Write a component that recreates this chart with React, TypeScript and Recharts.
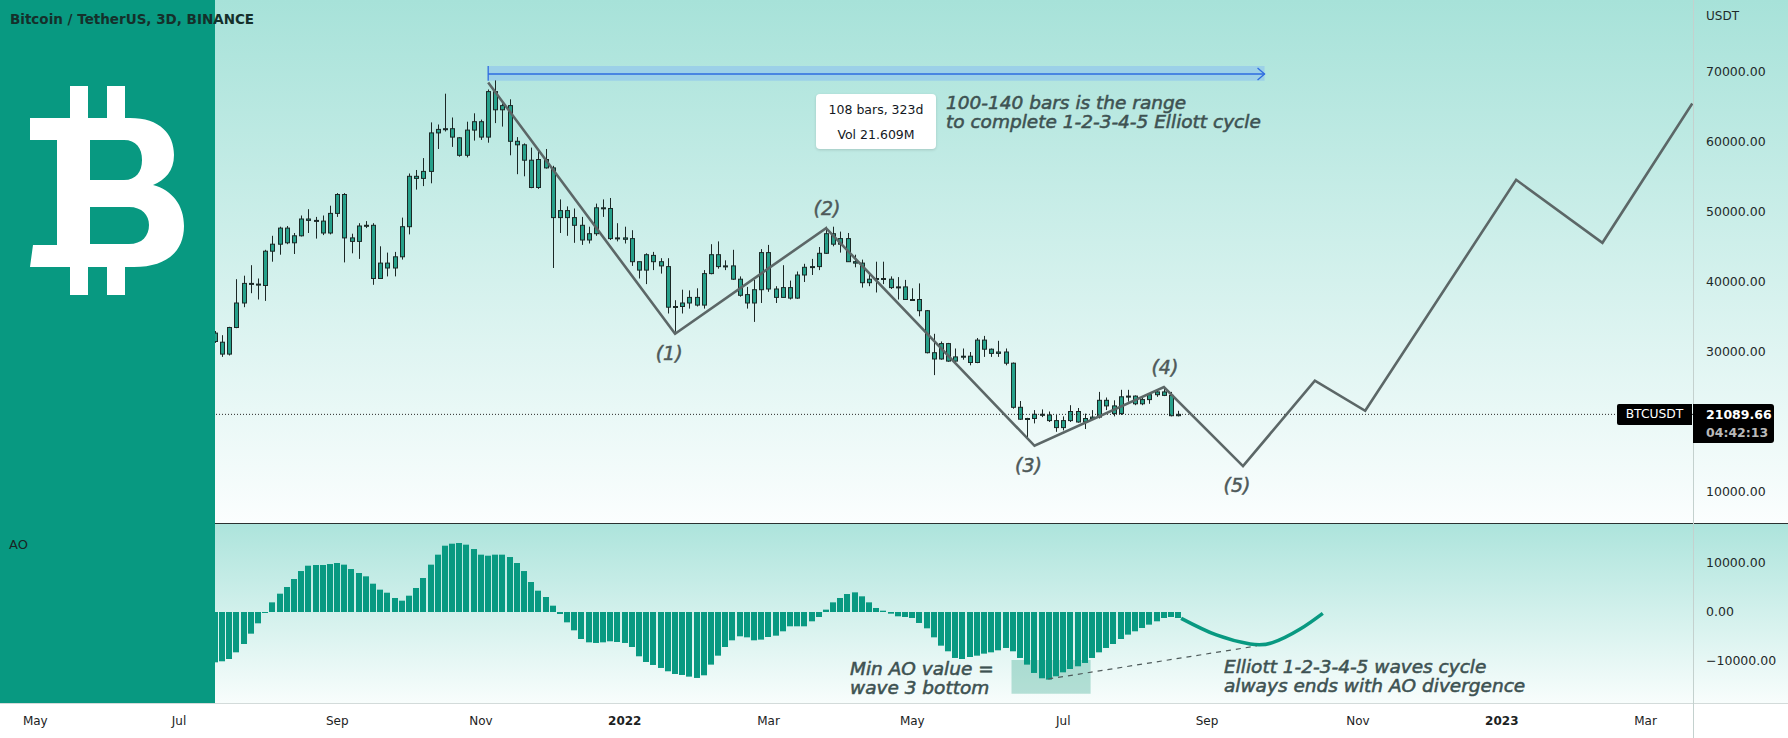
import React from "react";
import {
  Bar,
  ComposedChart,
  Line,
  ReferenceArea,
  ReferenceDot,
  ReferenceLine,
  XAxis,
  YAxis,
} from "recharts";

// 3D bars of BTCUSDT, index 0 = 2021-07-14. [open, high, low, close]
const candles: [number, number, number, number][] = [
  [32700, 33000, 31300, 31500], [31400, 32400, 29300, 29700], [29700, 33600, 29500, 33500],
  [33500, 40400, 33400, 37000], [37000, 40900, 36400, 39800], [39800, 42400, 38400, 39700],
  [39700, 40500, 37500, 39600], [39500, 44600, 37300, 44400], [44400, 46600, 42900, 45400],
  [45400, 47900, 43900, 47700], [47700, 48000, 45400, 45600], [45600, 47000, 44000, 46600],
  [46600, 49500, 46500, 49000], [49000, 50400, 47000, 48800], [48800, 49300, 46200, 48700],
  [48700, 49500, 46700, 47000], [47000, 50900, 46800, 49800], [49800, 52700, 49300, 52500],
  [52500, 52700, 42800, 46300], [46300, 46900, 44100, 45800], [45800, 48400, 43300, 48000],
  [48000, 48700, 47700, 48100], [48100, 48400, 39600, 40500], [40500, 45100, 40500, 42700],
  [42700, 44200, 40800, 42000], [42000, 44300, 40800, 43600], [43600, 49200, 43200, 47900],
  [47900, 55500, 46800, 55100], [55100, 56000, 53200, 54800], [54800, 57700, 53700, 55800],
  [55800, 62800, 54100, 61300], [61300, 62500, 59000, 61800], [61800, 66900, 61500, 61900],
  [61900, 63500, 59300, 60700], [60600, 60700, 57900, 58100], [58100, 62900, 57800, 61700],
  [61700, 64100, 60200, 62900], [62900, 63200, 60300, 60700], [60700, 67500, 59900, 67200],
  [67200, 68800, 62700, 64600], [64600, 65500, 62200, 65200], [65200, 66100, 58100, 60100],
  [60100, 60700, 55400, 59600], [59600, 59800, 55100, 57400], [57400, 59200, 53400, 53500],
  [53500, 58700, 53300, 57500], [57500, 59000, 56200, 56300], [56300, 56600, 42000, 49200],
  [49200, 51800, 47000, 50200], [50200, 50800, 46600, 49200], [49200, 50500, 45600, 48100],
  [48100, 49300, 45300, 46000], [46000, 47900, 45500, 46900], [46900, 51200, 46600, 50600],
  [50600, 51800, 49300, 50500], [50500, 52000, 46000, 46200], [46200, 48400, 45800, 46300],
  [46300, 47900, 45500, 46100], [46200, 47400, 42300, 42900], [42900, 42900, 40500, 41700],
  [41700, 44100, 39700, 43900], [43800, 44300, 41700, 42900], [42900, 43400, 41200, 42300],
  [42200, 43400, 35500, 36400], [36400, 37400, 32900, 36500], [36500, 38900, 35500, 37000],
  [37000, 38800, 36200, 37800], [37800, 39100, 36500, 36700], [36700, 41700, 36200, 41200],
  [41200, 45400, 41100, 43900], [43900, 45800, 41900, 42200], [42200, 43100, 41700, 42300],
  [42300, 44600, 40300, 40400], [40400, 40800, 37900, 38100], [38200, 39300, 36200, 37000],
  [37000, 40300, 34300, 38900], [38900, 44700, 37000, 44200], [44200, 45300, 38600, 39000],
  [39000, 39400, 37000, 37800], [37800, 42400, 37800, 39200], [39200, 40200, 37500, 37700],
  [37700, 41500, 37600, 41000], [41000, 42600, 40000, 42100], [42100, 43300, 41000, 42200],
  [42200, 45000, 41700, 44100], [44100, 47900, 44000, 46900], [46900, 47900, 45100, 45400],
  [45400, 47200, 44200, 46200], [46200, 47000, 42900, 42900], [42900, 43900, 42100, 42700],
  [42700, 43200, 39200, 39900], [39900, 41200, 39400, 40400], [40400, 42900, 38500, 40500],
  [40500, 42900, 39700, 40400], [40400, 40800, 39000, 39200], [39200, 40700, 37500, 39300],
  [39300, 40300, 37500, 37500], [37500, 39100, 37400, 37500], [37500, 39800, 35100, 35900],
  [35900, 36000, 29800, 29900], [29900, 32600, 26700, 29000], [29000, 31500, 28900, 31200],
  [31200, 31300, 28600, 28700], [28700, 30500, 28600, 29300], [29300, 30500, 28900, 29400],
  [29400, 30000, 28100, 28500], [28500, 32000, 28400, 31700], [31700, 32300, 29300, 30400],
  [30400, 30500, 29300, 29800], [29800, 31600, 29300, 30000], [30000, 30500, 28100, 28400],
  [28400, 28500, 21900, 22100], [22100, 23000, 20300, 20400], [20400, 20600, 17600, 20500],
  [20500, 21700, 19800, 21100], [21100, 21800, 20700, 21000], [21000, 21500, 20000, 20200],
  [20200, 21000, 18600, 19200], [19200, 20800, 18800, 20200], [20200, 22400, 20000, 21500],
  [21500, 22000, 19900, 20000], [20000, 21200, 19000, 20500], [20500, 21700, 20400, 20700],
  [20700, 24300, 20500, 23100], [23100, 23500, 21700, 22300], [22300, 23100, 20800, 21200],
  [21200, 24600, 21000, 23600], [23600, 24600, 22900, 23700], [23700, 23800, 22400, 22600],
  [22600, 23500, 22400, 23200], [23200, 24100, 22600, 23900], [23900, 24700, 23600, 24300],
  [24300, 25000, 23700, 23800], [23800, 24300, 20800, 20900], [20900, 21600, 20800, 21089.66],
];

// Awesome Oscillator, one value per bar
const aoValues = [
  -10270, -10060, -9590, -8230, -6530, -4420, -2310, -200, 1970, 3740,
  5100, 6730, 8360, 9450, 9590, 9590, 9790, 10000, 9660, 8770,
  7960, 7280, 5780, 4560, 3940, 2860, 2310, 3330, 4900, 6940,
  9660, 11700, 13530, 13940, 14080, 13740, 12850, 11700, 11490, 11700,
  11700, 11220, 10000, 8360, 6120, 4350, 3060, 1290, -410, -2110,
  -3740, -5510, -6190, -6320, -6190, -5980, -6120, -6320, -7140, -9040,
  -10200, -10810, -11420, -12100, -12650, -12850, -13190, -13460, -12920, -10740,
  -8910, -7140, -5780, -4960, -5170, -5780, -5640, -5100, -4830, -3940,
  -2920, -2920, -2920, -1900, -1020, 480, 1970, 2860, 3670, 4010,
  3200, 1970, 820, 270, -340, -880, -1020, -1220, -2240, -3330,
  -5170, -6870, -8020, -9380, -9590, -9180, -8910, -8500, -8230, -7820,
  -7340, -8020, -9380, -10740, -12440, -13530, -13800, -13120, -12310, -11630,
  -11080, -10400, -9380, -8230, -7340, -6530, -5510, -4620, -3940, -3260,
  -2580, -1900, -1220, -1020, -1220,
];

// Elliott wave: pivots on real bars, then the projected path [bar index, price]
const wavePivots: [number, number][] = [
  [38, 68500], [64, 32600], [85, 47700], [114, 16600], [132, 25000],
];
const waveProjection: [number, number][] = [
  [143, 13700], [153, 25900], [160, 21600], [181, 54600], [193, 45600], [205.5, 65500],
];
const waveLabels = ["(1)", "(2)", "(3)", "(4)", "(5)"];

// projected AO curve
const aoProjection: [number, number][] = [
  [134.4, -1290], [139.3, -4690], [144, -6530], [147.1, -6260], [150.9, -3530], [154.1, -270],
];

const priceTicks = [10000, 30000, 40000, 50000, 60000, 70000];
const aoTicks = [-10000, 0, 10000];
const monthDates = [
  "2021-05-01", "2021-07-01", "2021-09-01", "2021-11-01", "2022-01-01", "2022-03-01",
  "2022-05-01", "2022-07-01", "2022-09-01", "2022-11-01", "2023-01-01", "2023-03-01",
];
const monthLabels = ["May", "Jul", "Sep", "Nov", "2022", "Mar", "May", "Jul", "Sep", "Nov", "2023", "Mar"];
const firstBar = "2021-07-14";
const lastPrice = 21089.66;

const X_MIN = -29.91;
const X_MAX = 205.6;
const P_MIN = 5571.4;
const P_MAX = 80285.7;
const AO_MIN = -18571;
const AO_MAX = 17959;

const TEAL = "#089981";
const BODY = "#26a08a";
const EDGE = "#1c2826";
const FONT = "DejaVu Sans";
const NOTE = "#3e5252";

const dayMs = 86400000;
// ticks sit on the bar where the month starts
const monthTicks = monthDates.map((d) => {
  const bars = (Date.parse(d) - Date.parse(firstBar)) / dayMs / 3;
  return bars < 0 ? Math.floor(bars) : Math.ceil(bars);
});

const priceData = candles.map(([o, h, l, c], i) => ({ i, o, h, l, c }));
const aoData = aoValues.map((ao, i) => ({ i, ao }));
const waveData = [...wavePivots, ...waveProjection].map(([i, v]) => ({ i, v }));
const aoCurveData = aoProjection.map(([i, v]) => ({ i, v }));
const labelPoints: [number, number][] = [...wavePivots.slice(1), waveProjection[0]];

function CandleShape(props: any) {
  const { x, y, width, height, payload } = props;
  if (!payload || payload.h == null || !isFinite(y)) return null;
  const top = Math.min(y, y + height);
  const span = Math.abs(height);
  const cx = Math.round(x + width / 2) + 0.5;
  const toY = (v: number) => top + ((payload.h - v) / (payload.h - payload.l)) * span;
  const bTop = toY(Math.max(payload.o, payload.c));
  const bBot = toY(Math.min(payload.o, payload.c));
  return (
    <g>
      <line x1={cx} x2={cx} y1={top} y2={top + span} stroke={EDGE} strokeWidth={1} />
      <rect
        x={cx - 2}
        y={bTop}
        width={4}
        height={Math.max(bBot - bTop, 1)}
        fill={BODY}
        stroke={EDGE}
        strokeWidth={1}
      />
    </g>
  );
}

function AoShape(props: any) {
  const { x, y, width, height } = props;
  if (!isFinite(y) || !height) return null;
  const cx = Math.round(x + width / 2);
  return <rect x={cx - 3} y={Math.min(y, y + height)} width={6} height={Math.abs(height)} fill={TEAL} />;
}

function MonthTick(props: any) {
  const { x, y, payload } = props;
  const label = monthLabels[monthTicks.indexOf(payload.value)];
  const bold = /^\d+$/.test(label);
  return (
    <text
      x={x}
      y={y + 18}
      textAnchor="middle"
      dominantBaseline="central"
      fontFamily={FONT}
      fontSize={12}
      fontWeight={bold ? "bold" : "normal"}
      fill="#1b2222"
    >
      {label}
    </text>
  );
}

const noteStyle: React.CSSProperties = {
  position: "absolute",
  fontFamily: FONT,
  fontStyle: "italic",
  fontSize: 18.5,
  color: NOTE,
  whiteSpace: "nowrap",
  lineHeight: "19px",
  WebkitTextStroke: `0.55px ${NOTE}`,
};

export default function App() {
  return (
    <div
      style={{
        position: "absolute",
        left: 0,
        top: 0,
        width: 1788,
        height: 738,
        background: "#ffffff",
        overflow: "hidden",
        fontFamily: FONT,
      }}
    >
      <div style={{ position: "absolute", left: 0, top: 0, width: 1788, height: 523, background: "linear-gradient(#a7e2d9, #fbfefe)" }} />
      <div style={{ position: "absolute", left: 0, top: 524, width: 1788, height: 179, background: "linear-gradient(#ade4dc, #f8fdfc)" }} />

      <div style={{ position: "absolute", left: 0, top: 0 }}>
        <ComposedChart width={1788} height={523} data={priceData} margin={{ top: 0, right: 0, bottom: 0, left: 0 }}>
          <XAxis type="number" dataKey="i" domain={[X_MIN, X_MAX]} allowDataOverflow hide />
          <YAxis
            orientation="right"
            type="number"
            width={95}
            domain={[P_MIN, P_MAX]}
            allowDataOverflow
            ticks={priceTicks}
            interval={0}
            tickFormatter={(v: number) => v.toFixed(2)}
            axisLine={false}
            tickLine={false}
            tickSize={0}
            tickMargin={13}
            tick={{ fill: "#1e2a2a", fontSize: 12.5, fontFamily: FONT }}
          />
          <ReferenceArea x1={38} x2={146} y1={68750} y2={70860} fill="#8ec2ee" fillOpacity={0.6} stroke="none" />
          <ReferenceLine segment={[{ x: 38, y: 69714 }, { x: 146, y: 69714 }]} stroke="#2e6be0" strokeWidth={1.3} />
          <ReferenceLine segment={[{ x: 38, y: 68750 }, { x: 38, y: 70860 }]} stroke="#2e6be0" strokeWidth={1.3} />
          <ReferenceDot
            x={146}
            y={69714}
            r={0}
            shape={(p: any) => (
              <path
                d={`M${p.cx - 7},${p.cy - 6} L${p.cx},${p.cy} L${p.cx - 7},${p.cy + 6}`}
                fill="none"
                stroke="#2e6be0"
                strokeWidth={1.3}
              />
            )}
          />
          <ReferenceLine y={lastPrice} stroke="#2a2a2a" strokeDasharray="1 2" />
          <Bar dataKey={(d: any) => [d.l, d.h]} barSize={5} shape={CandleShape} isAnimationActive={false} />
          <Line
            data={waveData}
            dataKey="v"
            type="linear"
            stroke="#5c6767"
            strokeWidth={2.6}
            dot={false}
            activeDot={false}
            isAnimationActive={false}
          />
          {labelPoints.map(([i, v], k) => (
            <ReferenceDot
              key={k}
              x={i}
              y={v}
              r={0}
              shape={(p: any) => (
                <text
                  x={p.cx - (k % 2 === 0 ? 6 : -1)}
                  y={p.cy + (k % 2 === 0 ? 19 : -20)}
                  textAnchor="middle"
                  dominantBaseline="central"
                  fontFamily={FONT}
                  fontStyle="italic"
                  fontSize={19}
                  fill="#4e5959"
                  stroke="#4e5959"
                  strokeWidth={0.5}
                >
                  {waveLabels[k]}
                </text>
              )}
            />
          ))}
        </ComposedChart>
      </div>

      <div style={{ position: "absolute", left: 0, top: 524 }}>
        <ComposedChart width={1788} height={214} data={aoData} margin={{ top: 0, right: 0, bottom: 0, left: 0 }}>
          <XAxis
            type="number"
            dataKey="i"
            domain={[X_MIN, X_MAX]}
            allowDataOverflow
            ticks={monthTicks}
            interval={0}
            height={35}
            axisLine={false}
            tickLine={false}
            tickSize={0}
            tickMargin={0}
            tick={<MonthTick />}
          />
          <YAxis
            orientation="right"
            type="number"
            width={95}
            domain={[AO_MIN, AO_MAX]}
            allowDataOverflow
            ticks={aoTicks}
            interval={0}
            tickFormatter={(v: number) => (v < 0 ? "\u2212" + Math.abs(v).toFixed(2) : v.toFixed(2))}
            axisLine={false}
            tickLine={false}
            tickSize={0}
            tickMargin={13}
            tick={{ fill: "#1e2a2a", fontSize: 12.5, fontFamily: FONT }}
          />
          <ReferenceArea x1={110.8} x2={121.8} y1={-9800} y2={-16700} fill="#3aa88e" fillOpacity={0.35} stroke="none" />
          <Bar dataKey="ao" barSize={6} shape={AoShape} isAnimationActive={false} />
          <Line
            data={aoCurveData}
            dataKey="v"
            type="natural"
            stroke={TEAL}
            strokeWidth={3.5}
            dot={false}
            activeDot={false}
            isAnimationActive={false}
          />
          <ReferenceLine
            segment={[{ x: 115.9, y: -13670 }, { x: 144.9, y: -6940 }]}
            stroke="#4f5b5b"
            strokeDasharray="5 5"
            strokeWidth={1.2}
          />
        </ComposedChart>
      </div>

      {/* frame lines */}
      <div style={{ position: "absolute", left: 0, top: 523, width: 1788, height: 1, background: "#2b3131" }} />
      <div style={{ position: "absolute", left: 0, top: 703, width: 1788, height: 1, background: "#d3dbda" }} />
      <div style={{ position: "absolute", left: 1693, top: 0, width: 1, height: 738, background: "#c4d1ce" }} />

      {/* left panel with logo */}
      <div style={{ position: "absolute", left: 0, top: 0, width: 215, height: 703, background: TEAL }} />
      <svg style={{ position: "absolute", left: 0, top: 0 }} width={215} height={320}>
        <rect x={70} y={86} width={18} height={36} fill="#fff" />
        <rect x={107} y={86} width={18} height={36} fill="#fff" />
        <rect x={70} y={262} width={18} height={33} fill="#fff" />
        <rect x={107} y={262} width={18} height={33} fill="#fff" />
        <path
          fillRule="evenodd"
          fill="#fff"
          d="M30 118 L130 118 C160 118 174 134 174 155 C174 171 165 180 153 185 C172 190 184 205 184 226 C184 252 166 267 134 267 L30 267 L33 245 L57 245 L57 140 L30 140 Z
             M90 140 L124 140 C136 140 142 148 142 160 C142 172 136 180 124 180 L90 180 Z
             M90 207 L129 207 C142 207 149 215 149 225 C149 236 142 244 129 244 L90 244 Z"
        />
      </svg>
      <div style={{ position: "absolute", left: 10, top: 11, fontSize: 13.5, fontWeight: "bold", color: "#15302b", whiteSpace: "nowrap" }}>
        Bitcoin / TetherUS, 3D, BINANCE
      </div>
      <div style={{ position: "absolute", left: 9, top: 537, fontSize: 13, color: "#1a2424" }}>AO</div>

      {/* axis captions and price labels */}
      <div style={{ position: "absolute", left: 1706, top: 9, fontSize: 12, color: "#1e2a2a" }}>USDT</div>
      <div
        style={{
          position: "absolute", left: 1617, top: 404, width: 75, height: 21, background: "#000",
          borderRadius: "2px 0 0 2px", color: "#fff", fontSize: 12.3, lineHeight: "21px", textAlign: "center",
        }}
      >
        BTCUSDT
      </div>
      <div
        style={{
          position: "absolute", left: 1693, top: 404, width: 81, height: 39, background: "#000",
          borderRadius: "0 3px 3px 0", fontSize: 12.5, lineHeight: "18px", paddingLeft: 13, boxSizing: "border-box",
        }}
      >
        <div style={{ color: "#fff", fontWeight: "bold", marginTop: 2 }}>21089.66</div>
        <div style={{ color: "#b9b9b9", fontWeight: "bold" }}>04:42:13</div>
      </div>

      {/* annotations */}
      <div
        style={{
          position: "absolute", left: 816, top: 94, width: 120, height: 55, background: "#fff",
          borderRadius: 4, boxShadow: "0 1px 3px rgba(0,0,0,0.15)", textAlign: "center",
          fontSize: 12.5, color: "#131722", lineHeight: "25px", paddingTop: 3, boxSizing: "border-box",
        }}
      >
        <div>108 bars, 323d</div>
        <div>Vol 21.609M</div>
      </div>
      <div style={{ ...noteStyle, left: 946, top: 93 }}>
        100-140 bars is the range
        <br />
        to complete 1-2-3-4-5 Elliott cycle
      </div>
      <div style={{ ...noteStyle, left: 850, top: 659 }}>
        Min AO value =
        <br />
        wave 3 bottom
      </div>
      <div style={{ ...noteStyle, left: 1224, top: 657 }}>
        Elliott 1-2-3-4-5 waves cycle
        <br />
        always ends with AO divergence
      </div>
    </div>
  );
}
